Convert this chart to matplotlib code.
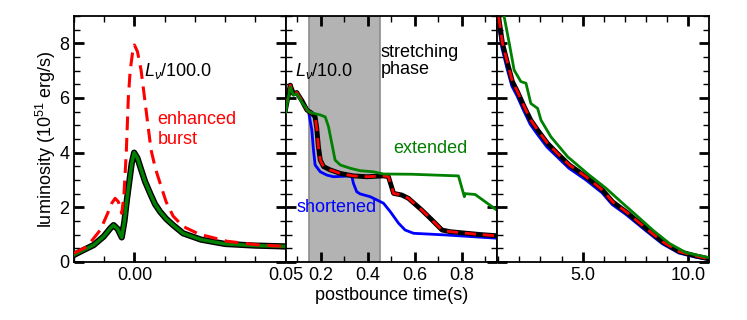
import matplotlib
matplotlib.use("Agg")
import matplotlib.pyplot as plt
from matplotlib.ticker import MultipleLocator, FixedLocator, FormatStrFormatter

plt.rcParams["font.family"] = ["Liberation Sans", "DejaVu Sans"]
plt.rcParams["mathtext.fontset"] = "custom"
plt.rcParams["mathtext.it"] = "Liberation Sans:italic"
plt.rcParams["mathtext.rm"] = "Liberation Sans"

# ---- panel 1: bounce burst (L/100) ----
t_enh = [-0.02, -0.0157, -0.0113, -0.0091, -0.0075, -0.0064, -0.0053, -0.0042,
         -0.0035, -0.0027, -0.002, -0.0014, -0.0007, 0.0, 0.001, 0.0022, 0.0033,
         0.0044, 0.0055, 0.007, 0.0085, 0.0105, 0.0128, 0.0161, 0.0214, 0.0306,
         0.0406, 0.05]
l_enh = [0.32, 0.56, 1.17, 1.72, 2.15, 2.33, 2.2, 1.78, 2.4, 4.0, 6.05, 7.0, 7.6,
         7.94, 7.7, 7.02, 6.05, 5.07, 4.1, 3.4, 2.88, 2.2, 1.68, 1.3, 1.02, 0.76,
         0.63, 0.57]
t_base1 = [-0.02, -0.0168, -0.0135, -0.0102, -0.008, -0.0069, -0.0055, -0.0042,
           -0.0033, -0.0025, -0.0009, -0.0001, 0.001, 0.0019, 0.0035, 0.0052,
           0.0068, 0.0085, 0.0105, 0.0128, 0.0161, 0.022, 0.03, 0.04, 0.05]
l_base1 = [0.26, 0.44, 0.62, 0.93, 1.23, 1.35, 1.2, 0.9, 1.5, 2.27, 3.61, 4.0,
           3.8, 3.49, 2.95, 2.51, 2.12, 1.84, 1.58, 1.35, 1.05, 0.82, 0.66, 0.6,
           0.57]

# ---- panel 2: accretion phase (L/10) ----
t_ref2 = [0.05, 0.07, 0.084, 0.098, 0.12, 0.141, 0.162, 0.176, 0.183, 0.19, 0.198,
          0.212, 0.24, 0.283, 0.339, 0.396, 0.467, 0.488, 0.51, 0.545, 0.573,
          0.63, 0.673, 0.716, 0.75, 0.871, 0.949]
l_ref2 = [5.57, 6.47, 6.15, 6.2, 5.9, 5.56, 5.44, 5.31, 4.89, 4.22, 3.73, 3.49,
          3.37, 3.24, 3.15, 3.12, 3.15, 3.12, 2.51, 2.45, 2.33, 1.9, 1.54, 1.17,
          1.11, 1.01, 0.96]
t_short2 = [0.05, 0.07, 0.084, 0.098, 0.12, 0.148, 0.162, 0.169, 0.176, 0.198,
            0.226, 0.254, 0.332, 0.339, 0.353, 0.368, 0.41, 0.439, 0.467, 0.496,
            0.531, 0.559, 0.595, 0.73, 0.949]
l_short2 = [5.57, 6.47, 6.15, 6.2, 5.9, 5.5, 4.83, 4.1, 3.55, 3.3, 3.18, 3.12,
            3.15, 2.88, 2.57, 2.49, 2.39, 2.27, 2.15, 1.84, 1.42, 1.17, 1.05,
            0.99, 0.87]
t_ext2 = [0.05, 0.07, 0.084, 0.098, 0.12, 0.148, 0.169, 0.198, 0.219, 0.233,
          0.247, 0.261, 0.283, 0.325, 0.368, 0.424, 0.467, 0.588, 0.786, 0.811,
          0.815, 0.857, 0.949]
l_ext2 = [5.45, 6.4, 6.1, 6.15, 5.85, 5.5, 5.44, 5.38, 5.31, 4.95, 4.34, 3.73,
          3.55, 3.43, 3.34, 3.30, 3.22, 3.21, 3.15, 2.39, 2.5, 2.47, 1.9]

# ---- panel 3: cooling phase ----
t_ref3 = [0.95, 1.05, 1.21, 1.45, 1.68, 1.92, 2.24, 2.55, 2.87, 3.34, 3.81, 4.37,
          5.16, 5.94, 6.42, 7.05, 8.0, 8.78, 9.57, 10.36, 10.9]
l_ref3 = [9.8, 8.85, 8.0, 7.27, 6.6, 6.23, 5.68, 5.19, 4.83, 4.34, 3.97, 3.55,
          3.12, 2.63, 2.2, 1.84, 1.23, 0.74, 0.38, 0.22, 0.13]
l_short3 = [9.6, 8.7, 7.85, 7.1, 6.45, 6.1, 5.55, 5.05, 4.7, 4.22, 3.87, 3.45,
            3.03, 2.55, 2.12, 1.77, 1.17, 0.69, 0.35, 0.2, 0.12]
t_ext3 = [0.95, 1.29, 1.53, 1.76, 2.08, 2.32, 2.55, 2.87, 3.03, 3.5, 4.29, 5.31,
          6.1, 6.89, 7.52, 8.31, 9.1, 9.89, 10.9]
l_ext3 = [10.5, 8.97, 8.0, 7.02, 6.6, 6.54, 5.8, 5.62, 5.19, 4.58, 3.85, 3.18,
          2.7, 2.15, 1.72, 1.17, 0.68, 0.34, 0.17]

stretch = (0.15, 0.45)

fig = plt.figure(figsize=(7.47, 3.2), dpi=100)
left, bottom, w, h = 74 / 747, 58 / 320, 211.5 / 747, 246 / 320
ax1 = fig.add_axes([left, bottom, w, h])
ax2 = fig.add_axes([left + w, bottom, w, h])
ax3 = fig.add_axes([left + 2 * w, bottom, w, h])

for ax in (ax1, ax2, ax3):
    ax.set_ylim(0, 9)
    ax.yaxis.set_major_locator(MultipleLocator(2))
    ax.yaxis.set_minor_locator(MultipleLocator(0.5))
    ax.tick_params(which="both", direction="in", top=True, right=True, labelsize=13)
    ax.tick_params(which="major", length=7, width=2)
    ax.tick_params(which="minor", length=4, width=1)
    for s in ax.spines.values():
        s.set_linewidth(1.3)
for ax in (ax2, ax3):
    ax.tick_params(labelleft=False)

# panel 1
ax1.plot(t_base1, l_base1, color="black", lw=4.5, zorder=2)
ax1.plot(t_base1, l_base1, color="green", lw=2.5, zorder=3)
ax1.plot(t_enh, l_enh, color="red", lw=2.2, dashes=(4.5, 2.5), zorder=4)
ax1.set_xlim(-0.02, 0.05)
ax1.xaxis.set_major_locator(FixedLocator([0.0, 0.05]))
ax1.xaxis.set_minor_locator(MultipleLocator(0.01))
ax1.xaxis.set_major_formatter(FormatStrFormatter("%.2f"))
ax1.set_ylabel("luminosity (10$^{51}$ erg/s)", fontsize=13, labelpad=1)
ax1.text(0.0033, 7.0, r"$L_\nu$/100.0", fontsize=13, ha="left", va="center")
ax1.text(0.0076, 4.85, "enhanced\nburst", fontsize=13, color="red", ha="left",
         va="center", linespacing=1.2)

# panel 2
ax2.axvspan(*stretch, facecolor="#b3b3b3", edgecolor="#8c8c8c", lw=1.2, zorder=0)
ax2.plot(t_short2, l_short2, color="blue", lw=2, zorder=2)
ax2.plot(t_ref2, l_ref2, color="black", lw=3.5, zorder=3)
ax2.plot(t_ref2, l_ref2, color="red", lw=2, dashes=(4, 2.5), zorder=4)
ax2.plot(t_ext2, l_ext2, color="green", lw=2, zorder=5)
ax2.set_xlim(0.05, 0.95)
ax2.xaxis.set_major_locator(FixedLocator([0.2, 0.4, 0.6, 0.8]))
ax2.xaxis.set_minor_locator(MultipleLocator(0.1))
ax2.xaxis.set_major_formatter(FormatStrFormatter("%.1f"))
ax2.set_xlabel("postbounce time(s)", fontsize=13, labelpad=2)
ax2.text(0.092, 7.0, r"$L_\nu$/10.0", fontsize=13, ha="left", va="center")
ax2.text(0.455, 7.35, "stretching\nphase", fontsize=13, ha="left", va="center",
         linespacing=1.0)
ax2.text(0.51, 4.15, "extended", fontsize=13, color="green", ha="left", va="center")
ax2.text(0.095, 2.0, "shortened", fontsize=13, color="blue", ha="left", va="center")

# panel 3
ax3.plot(t_ref3, l_short3, color="blue", lw=3, zorder=2)
ax3.plot(t_ref3, l_ref3, color="black", lw=3.5, zorder=3)
ax3.plot(t_ref3, l_ref3, color="red", lw=2, dashes=(4, 2.5), zorder=4)
ax3.plot(t_ext3, l_ext3, color="green", lw=2, zorder=5)
ax3.set_xlim(0.95, 10.95)
ax3.xaxis.set_major_locator(FixedLocator([5.0, 10.0]))
ax3.xaxis.set_minor_locator(MultipleLocator(1))
ax3.xaxis.set_major_formatter(FormatStrFormatter("%.1f"))

fig.savefig("out.png", dpi=100)
